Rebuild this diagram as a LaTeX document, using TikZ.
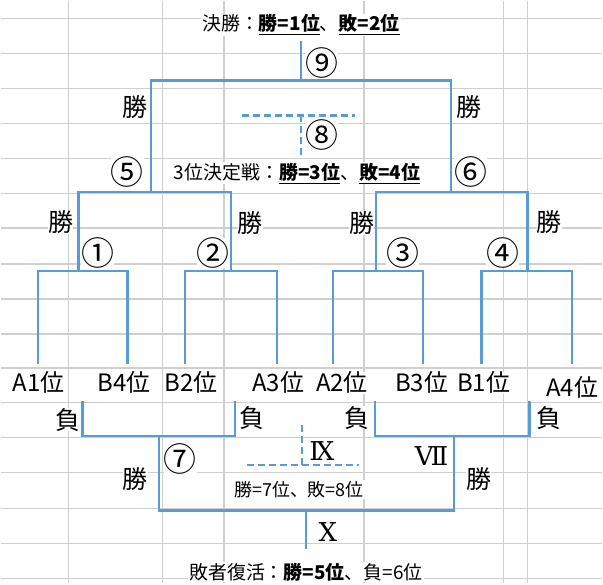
\documentclass[tikz,border=0pt]{standalone}
\usepackage{fontspec}
\setmainfont{Noto Sans CJK JP}
\newfontfamily\romanfont{DejaVu Serif}
\definecolor{bracket}{HTML}{5B9BD5}
\definecolor{sheet}{HTML}{CFCFCF}

\begin{document}
\begin{tikzpicture}[x=1pt, y=-1pt]
\tikzset{wire/.style = {draw=bracket, line width=2.2pt},
 dashwire/.style = {wire, dash pattern=on 7pt off 4pt},
 rule/.style = {draw=sheet, line width=1.5pt},
 tag/.style = {fill=white, inner sep=0pt},
 caption/.style = {tag, inner sep=1pt, font=\fontsize{19}{21}\selectfont},
 result/.style = {tag, font=\fontsize{25}{27}\selectfont},
 num/.style = {tag, font=\fontsize{33}{35}\selectfont},
 team/.style = {tag, font=\fontsize{24}{26}\selectfont},
 roman/.style = {tag, font=\romanfont\fontsize{26}{28}\selectfont}}

\fill[white] (0,0) rectangle (603,584);
\draw[rule] (68,0) -- (68,584) (162,0) -- (162,584) (224,0) -- (224,584) (364,0) -- (364,584) (504,0) -- (504,584) (528,0) -- (528,584);
\draw[rule] (0,18) -- (603,18) (0,53) -- (603,53) (0,88) -- (603,88) (0,123) -- (603,123) (0,158) -- (603,158) (0,193) -- (603,193);
\draw[rule] (0,228) -- (603,228) (0,264) -- (603,264) (0,299) -- (603,299) (0,334) -- (603,334) (0,368) -- (603,368) (0,403) -- (603,403);
\draw[rule] (0,438) -- (603,438) (0,473) -- (603,473) (0,509) -- (603,509) (0,544) -- (603,544) (0,579) -- (603,579);

\coordinate (p1) at (37,364); \coordinate (p2) at (127,364); \coordinate (p3) at (185,364); \coordinate (p4) at (277,364);
\coordinate (p5) at (333,364); \coordinate (p6) at (423,364); \coordinate (p7) at (482,364); \coordinate (p8) at (573,364);
\coordinate (m1) at (78,271); \coordinate (m2) at (231,271); \coordinate (m3) at (376,271); \coordinate (m4) at (528,271);
\coordinate (m5) at (151,192); \coordinate (m6) at (451,192); \coordinate (m9) at (301,80); \coordinate (top) at (301,40);
\draw[wire] (p1) |- (m1) -| (p2) (p3) |- (m2) -| (p4) (p5) |- (m3) -| (p6) (p7) |- (m4) -| (p8);
\draw[wire] (m1) |- (m5) -| (m2) (m3) |- (m6) -| (m4) (m5) |- (m9) -| (m6) (m9) -- (top);

\coordinate (q1) at (82,401); \coordinate (q2) at (235,401); \coordinate (q3) at (375,401); \coordinate (q4) at (530,401);
\coordinate (m7) at (159,436); \coordinate (m8) at (454,436); \coordinate (m10) at (306,511); \coordinate (bot) at (306,550);
\draw[wire] (q1) |- (m7) -| (q2) (q3) |- (m8) -| (q4) (m7) |- (m10) -| (m8) (m10) -- (bot);

\coordinate (d8a) at (242,115); \coordinate (d8b) at (355,115); \coordinate (d8) at (301,115); \coordinate (d8c) at (301,155);
\coordinate (d9a) at (247,465); \coordinate (d9b) at (359,465); \coordinate (d9) at (302,465); \coordinate (d9c) at (302,425);
\draw[dashwire] (d8a) -- (d8b) (d8) -- (d8c) (d9a) -- (d9b) (d9) -- (d9c);

\node[caption] (final) at (301,24) {決勝：\underline{\textbf{勝=1位}}、\underline{\textbf{敗=2位}}};
\node[caption] (third) at (297,173) {3位決定戦：\underline{\textbf{勝=3位}}、\underline{\textbf{敗=4位}}};
\node[caption, font=\fontsize{18}{20}\selectfont] (seventh) at (299,490) {勝=7位、敗=8位};
\node[caption] (revival) at (306,573) {敗者復活：\textbf{勝=5位}、負=6位};

\node[num] (c9) at (322,62) {⑨}; \node[num] (c8) at (322,135) {⑧}; \node[num] (c5) at (127,172) {⑤}; \node[num] (c6) at (471,172) {⑥};
\node[num] (c1) at (97,253) {①}; \node[num] (c2) at (213,253) {②}; \node[num] (c3) at (403,253) {③}; \node[num] (c4) at (503,253) {④};
\node[num] (c7) at (180,459) {⑦};
\node[roman] (r9) at (322,451) {Ⅸ}; \node[roman] (r7) at (432,456) {Ⅶ}; \node[roman] (r10) at (328,533) {Ⅹ};

\node[result] (w5) at (135,107) {勝}; \node[result] (w6) at (469,107) {勝};
\node[result] (w1) at (60,222) {勝}; \node[result] (w2) at (250,223) {勝}; \node[result] (w3) at (362,223) {勝}; \node[result] (w4) at (550,222) {勝};
\node[result] (l1) at (67,420) {負}; \node[result] (l2) at (252,418) {負}; \node[result] (l3) at (357,418) {負}; \node[result] (l4) at (550,418) {負};
\node[result] (w7) at (135,479) {勝}; \node[result] (w8) at (479,479) {勝};

\node[team] (A1) at (38,383) {A1位}; \node[team] (B4) at (124,383) {B4位}; \node[team] (B2) at (191,383) {B2位}; \node[team] (A3) at (278,383) {A3位};
\node[team] (A2) at (342,383) {A2位}; \node[team] (B3) at (422,383) {B3位}; \node[team] (B1) at (484,383) {B1位}; \node[team] (A4) at (573,388) {A4位};
\end{tikzpicture}
\end{document}
